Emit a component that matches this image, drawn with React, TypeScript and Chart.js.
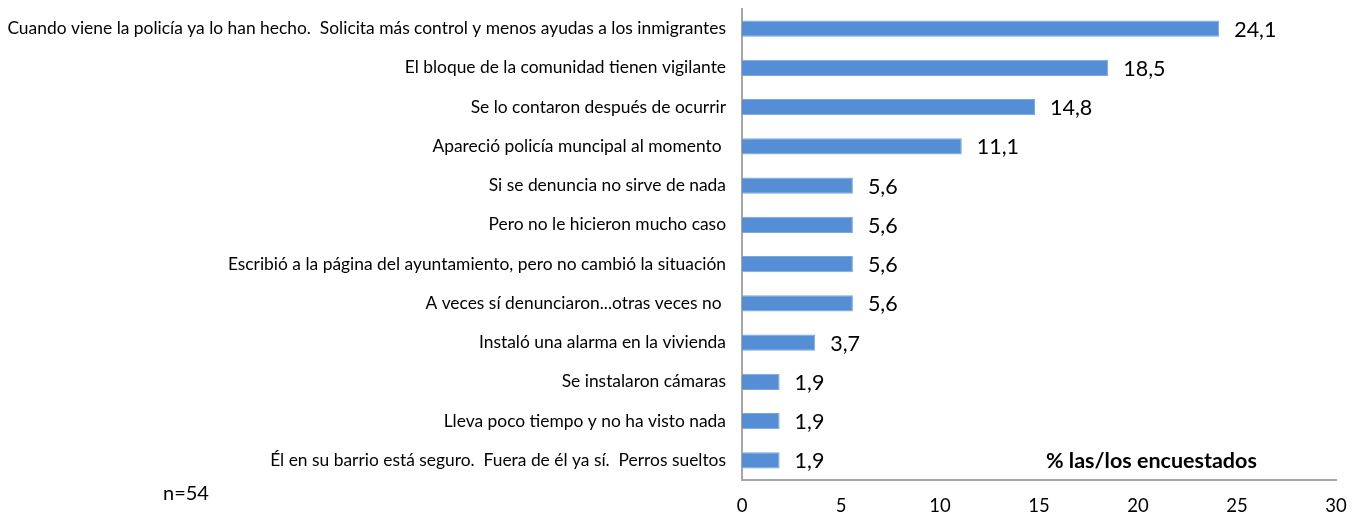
import React, { useEffect, useRef } from "react";
import { Chart, registerables } from "chart.js";

Chart.register(...registerables);

const categories = [
  "Cuando viene la policía ya lo han hecho.  Solicita más control y menos ayudas a los inmigrantes",
  "El bloque de la comunidad tienen vigilante",
  "Se lo contaron después de ocurrir",
  "Apareció policía muncipal al momento ",
  "Si se denuncia no sirve de nada",
  "Pero no le hicieron mucho caso",
  "Escribió a la página del ayuntamiento, pero no cambió la situación",
  "A veces sí denunciaron...otras veces no ",
  "Instaló una alarma en la vivienda",
  "Se instalaron cámaras",
  "Lleva poco tiempo y no ha visto nada",
  "Él en su barrio está seguro.  Fuera de él ya sí.  Perros sueltos",
];
const values = [24.1, 18.5, 14.8, 11.1, 5.6, 5.6, 5.6, 5.6, 3.7, 1.9, 1.9, 1.9];
const axisTitle = "% las/los encuestados";
const sampleNote = "n=54";

const FONT = "Lato, 'Open Sans', sans-serif";

const labelPlugin = {
  id: "valueLabels",
  afterDatasetsDraw(chart: any) {
    const ctx = chart.ctx;
    const meta = chart.getDatasetMeta(0);
    ctx.save();
    ctx.font = `21.5px ${FONT}`;
    ctx.fillStyle = "#000";
    ctx.textAlign = "left";
    ctx.textBaseline = "middle";
    meta.data.forEach((bar: any, i: number) => {
      const txt = values[i].toFixed(1).replace(".", ",");
      ctx.fillText(txt, bar.x + 15, bar.y + 1);
    });
    ctx.font = `bold 21.5px ${FONT}`;
    ctx.textAlign = "left";
    ctx.fillText(axisTitle, 1046, 461);
    ctx.font = `20px ${FONT}`;
    ctx.fillText(sampleNote, 163, 494);
    ctx.restore();
  },
};

export default function App() {
  const ref = useRef<HTMLCanvasElement>(null);
  useEffect(() => {
    document.body.style.margin = "0";
    const chart = new Chart(ref.current!, {
      type: "bar",
      data: {
        labels: categories,
        datasets: [
          {
            data: values,
            backgroundColor: "#558ED5",
            borderColor: "#7DA6DD",
            borderWidth: 1,
            barPercentage: 0.82,
            categoryPercentage: 0.5,
          },
        ],
      },
      options: {
        indexAxis: "y",
        animation: false,
        responsive: false,
        maintainAspectRatio: false,
        layout: { padding: { top: 9, right: 26, bottom: 0, left: 0 } },
        plugins: { legend: { display: false }, tooltip: { enabled: false } },
        scales: {
          x: {
            min: 0,
            max: 30,
            ticks: {
              stepSize: 5,
              padding: 15,
              color: "#000",
              font: { family: FONT, size: 18.5 },
              maxRotation: 0,
            },
            grid: { display: false, drawTicks: false },
            border: { display: true, color: "#A6A6A6", width: 2 },
            afterFit(scale: any) {
              scale.height = 35;
              scale.paddingLeft = 0;
              scale.paddingRight = 0;
            },
          },
          y: {
            ticks: {
              padding: 16,
              color: "#000",
              font: { family: FONT, size: 17.4 },
              autoSkip: false,
            },
            grid: { display: false, drawTicks: false },
            border: { display: true, color: "#A6A6A6", width: 2 },
            afterFit(scale: any) {
              scale.width = 742;
              scale.paddingTop = 0;
              scale.paddingBottom = 0;
            },
          },
        },
      },
      plugins: [labelPlugin],
    });
    return () => chart.destroy();
  }, []);
  return <canvas ref={ref} width={1362} height={515} style={{ display: "block" }} />;
}
